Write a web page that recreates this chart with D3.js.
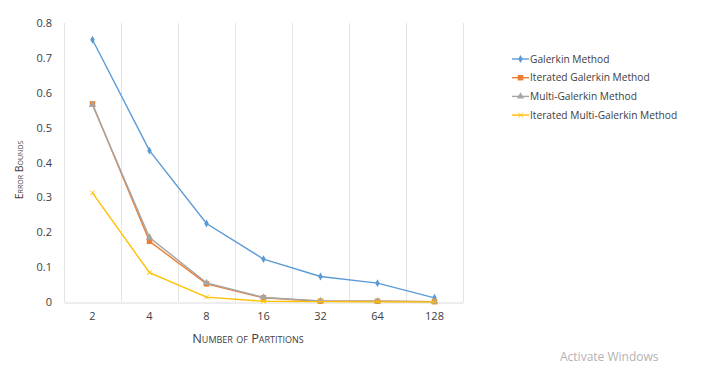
<!DOCTYPE html>
<html>
<head>
<meta charset="utf-8">
<script src="https://cdn.jsdelivr.net/npm/d3@7"></script>
<style>
  body { margin: 0; background: #fff; }
  text { font-family: "Open Sans", Lato, sans-serif; fill: #404040; }
  .tick text { font-size: 11px; }
  .axis-title { font-variant: small-caps; }
  .legend text { font-size: 10.2px; }
</style>
</head>
<body>
<script>
// Error bounds chart
const w = 721;
const h = 377;

// Data
const partitions = ["2", "4", "8", "16", "32", "64", "128"];
const galerkin = [0.752, 0.434, 0.225, 0.123, 0.073, 0.054, 0.012];
const iterGalerkin = [0.568, 0.174, 0.052, 0.012, 0.002, 0.002, 0.001];
const multiGalerkin = [0.565, 0.185, 0.055, 0.013, 0.003, 0.002, 0.001];
const iterMultiGalerkin = [0.313, 0.084, 0.014, 0.002, 0.001, 0.0005, 0.0003];
const seriesNames = ["Galerkin Method", "Iterated Galerkin Method", "Multi-Galerkin Method", "Iterated Multi-Galerkin Method"];
const yTicks = [0, 0.1, 0.2, 0.3, 0.4, 0.5, 0.6, 0.7, 0.8];

const series = [
  { name: seriesNames[0], values: galerkin, color: "#5B9BD5", symbol: d3.symbolDiamond, size: 18 },
  { name: seriesNames[1], values: iterGalerkin, color: "#ED7D31", symbol: d3.symbolSquare, size: 30 },
  { name: seriesNames[2], values: multiGalerkin, color: "#A5A5A5", symbol: d3.symbolTriangle, size: 22 },
  { name: seriesNames[3], values: iterMultiGalerkin, color: "#FFC000", symbol: d3.symbolX, size: 16 }
];

// plot area
const plotLeft = 64, plotRight = 463, plotTop = 23, plotBottom = 302;

const xScale = d3.scaleBand()
  .domain(partitions)
  .range([plotLeft, plotRight]);

const yScale = d3.scaleLinear()
  .domain([0, 0.8])
  .range([plotBottom, plotTop]);

const svg = d3.select("body")
  .append("svg")
  .attr("width", w)
  .attr("height", h);

// vertical gridlines between categories
const gridX = partitions.map(p => xScale(p)).concat([plotRight]);
svg.append("g")
  .selectAll("line")
  .data(gridX)
  .join("line")
  .attr("x1", d => d + 0.5)
  .attr("x2", d => d + 0.5)
  .attr("y1", plotTop)
  .attr("y2", plotBottom)
  .attr("stroke", "#e4e4e4")
  .attr("stroke-width", 1);

// bottom axis
const bottomAxis = d3.axisBottom(xScale).tickSize(0).tickPadding(10);
const gx = svg.append("g")
  .attr("transform", "translate(0," + (plotBottom + 0.5) + ")")
  .call(bottomAxis);
gx.select(".domain").attr("stroke", "#dcdcdc");
gx.selectAll(".tick text").attr("fill", "#404040");

// left axis (labels only)
const leftAxis = d3.axisLeft(yScale)
  .tickValues(yTicks)
  .tickSize(0)
  .tickPadding(12)
  .tickFormat(d => d === 0 ? "0" : d3.format(".1f")(d));
const gy = svg.append("g")
  .attr("transform", "translate(" + plotLeft + ",0)")
  .call(leftAxis);
gy.select(".domain").remove();
gy.selectAll(".tick text").attr("fill", "#404040");

// lines and markers
const line = d3.line()
  .x((d, i) => xScale(partitions[i]) + xScale.bandwidth() / 2)
  .y(d => yScale(d));

series.forEach(s => {
  svg.append("path")
    .datum(s.values)
    .attr("d", line)
    .attr("fill", "none")
    .attr("stroke", s.color)
    .attr("stroke-width", 1.4);
  svg.append("g")
    .selectAll("path")
    .data(s.values)
    .join("path")
    .attr("transform", (d, i) => "translate(" + (xScale(partitions[i]) + xScale.bandwidth() / 2) + "," + yScale(d) + ")")
    .attr("d", d3.symbol().type(s.symbol).size(s.size))
    .attr("fill", s.color)
    .attr("stroke", s.symbol === d3.symbolX ? s.color : "none")
    .attr("stroke-width", 1);
});

// axis titles
svg.append("text")
  .attr("class", "axis-title")
  .attr("x", 248)
  .attr("y", 342.5)
  .attr("text-anchor", "middle")
  .style("font-size", "12.8px")
  .text("Number of Partitions");

svg.append("text")
  .attr("class", "axis-title")
  .attr("transform", "rotate(-90)")
  .attr("x", -170)
  .attr("y", 23)
  .attr("text-anchor", "middle")
  .style("font-size", "10.6px")
  .text("Error Bounds");

// legend
const legend = svg.append("g").attr("class", "legend");
series.forEach((s, i) => {
  const y = 59 + i * 18.7;
  legend.append("line")
    .attr("x1", 512).attr("x2", 529)
    .attr("y1", y).attr("y2", y)
    .attr("stroke", s.color)
    .attr("stroke-width", 1.4);
  legend.append("path")
    .attr("transform", "translate(520.5," + y + ")")
    .attr("d", d3.symbol().type(s.symbol).size(s.size))
    .attr("fill", s.color)
    .attr("stroke", s.symbol === d3.symbolX ? s.color : "none");
  legend.append("text")
    .attr("x", 530)
    .attr("y", y)
    .attr("dy", "0.35em")
    .text(s.name);
});

// watermark
svg.append("text")
  .attr("x", 560)
  .attr("y", 361)
  .style("font-size", "12px")
  .style("fill", "#b3b3b3")
  .text("Activate Windows");
</script>
</body>
</html>
